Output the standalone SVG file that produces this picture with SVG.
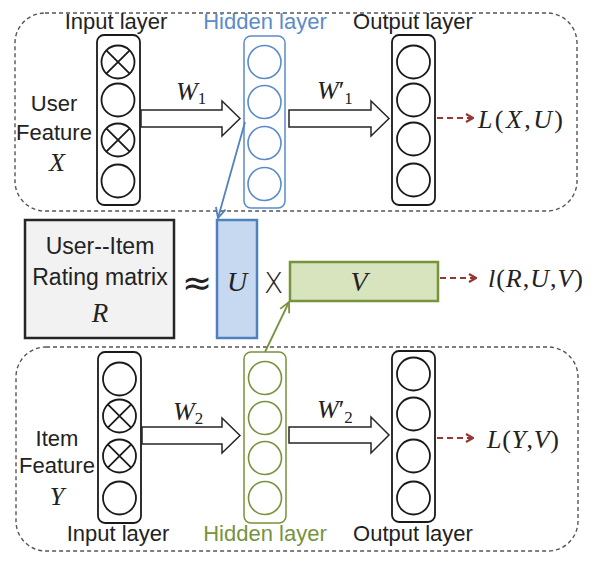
<svg xmlns="http://www.w3.org/2000/svg" width="591" height="566" viewBox="0 0 591 566">
<defs>
<style>
.frame{fill:none;stroke:#555;stroke-width:1.4;stroke-dasharray:4 3}
.col{fill:#fff;stroke:#1a1a1a;stroke-width:1.8}
.colb{fill:#fff;stroke:#5b8bc9;stroke-width:1.5}
.colg{fill:#fff;stroke:#77933c;stroke-width:1.5}
.n{fill:none;stroke:#1a1a1a;stroke-width:1.8}
.nb{fill:none;stroke:#5b8bc9;stroke-width:1.6}
.ng{fill:none;stroke:#77933c;stroke-width:1.6}
.blk{fill:#fff;stroke:#262626;stroke-width:1.5}
.lbl{font-family:"Liberation Sans",Arial,sans-serif;font-size:22px;fill:#222;text-anchor:middle}
.math{font-family:"Liberation Serif","Times New Roman",serif;font-style:italic;fill:#222}
.up{font-style:normal}
.loss{fill:none;stroke:#953735;stroke-width:2.2;stroke-dasharray:6 4}
</style>
<marker id="redhead" viewBox="0 0 10 10" refX="9" refY="5" markerWidth="10" markerHeight="10" markerUnits="userSpaceOnUse" orient="auto">
<path d="M2,1 L9,5 L2,9" fill="none" stroke="#953735" stroke-width="2.2"/>
</marker>
<marker id="bluehead" viewBox="0 0 12 12" refX="11" refY="6" markerWidth="12" markerHeight="12" markerUnits="userSpaceOnUse" orient="auto">
<path d="M1,1 L11,6 L1,11" fill="none" stroke="#4f81bd" stroke-width="1.8"/>
</marker>
<marker id="greenhead" viewBox="0 0 12 12" refX="11" refY="6" markerWidth="12" markerHeight="12" markerUnits="userSpaceOnUse" orient="auto">
<path d="M1,1 L11,6 L1,11" fill="none" stroke="#77933c" stroke-width="1.8"/>
</marker>
</defs>
<rect width="591" height="566" fill="#fff"/>

<g id="user-frame">
<rect class="frame" x="15" y="13" width="562" height="198" rx="30"/>
</g>
<g id="item-frame">
<rect class="frame" x="16" y="347" width="562" height="204" rx="30"/>
</g>

<g id="user-feature">
<text class="lbl" x="54" y="111">User</text>
<text class="lbl" x="54" y="140">Feature</text>
<text class="math" x="57" y="171" font-size="26" text-anchor="middle">X</text>
</g>

<g id="user-input-layer">
<text class="lbl" x="116" y="29">Input layer</text>
<rect class="col" x="97" y="35" width="43" height="170" rx="7"/>
<circle class="n" cx="118" cy="62" r="16.5"/>
<path class="n" d="M106.3,50.3 L129.7,73.7 M129.7,50.3 L106.3,73.7"/>
<circle class="n" cx="118" cy="100" r="16.5"/>
<circle class="n" cx="118" cy="140" r="16.5"/>
<path class="n" d="M106.3,128.3 L129.7,151.7 M129.7,128.3 L106.3,151.7"/>
<circle class="n" cx="118" cy="181" r="16.5"/>
</g>

<g id="user-hidden-layer">
<text class="lbl" x="265" y="29" style="fill:#5b8bc9">Hidden layer</text>
<rect class="colb" x="244" y="36" width="41" height="172" rx="7"/>
<circle class="nb" cx="264.5" cy="62" r="16.5"/>
<circle class="nb" cx="264.5" cy="102" r="16.5"/>
<circle class="nb" cx="264.5" cy="143" r="16.5"/>
<circle class="nb" cx="264.5" cy="184" r="16.5"/>
</g>

<g id="user-output-layer">
<text class="lbl" x="413" y="29">Output layer</text>
<rect class="col" x="392" y="35" width="43" height="170" rx="7"/>
<circle class="n" cx="413.5" cy="62" r="16.5"/>
<circle class="n" cx="413.5" cy="100" r="16.5"/>
<circle class="n" cx="413.5" cy="139" r="16.5"/>
<circle class="n" cx="413.5" cy="180" r="16.5"/>
</g>

<g id="user-loss">
<text class="math" x="478" y="128" font-size="26" textLength="85" lengthAdjust="spacing">L<tspan class="up">(</tspan>X<tspan class="up">,</tspan>U<tspan class="up">)</tspan></text>
</g>

<g id="rating-matrix">
<rect x="25" y="220" width="149" height="118" fill="#f2f2f2" stroke="#262626" stroke-width="2.5"/>
<text class="lbl" x="100" y="254" font-size="23" style="font-size:23px">User--Item</text>
<text class="lbl" x="100" y="285" style="font-size:23px">Rating matrix</text>
<text class="math" x="100" y="322" font-size="27" text-anchor="middle">R</text>
</g>

<g id="approx">
<text x="197" y="295" font-family="DejaVu Sans, sans-serif" font-size="36" fill="#222" text-anchor="middle">≈</text>
</g>

<g id="U-matrix">
<rect x="217" y="220" width="40" height="118" fill="#c6d9f1" stroke="#4f81bd" stroke-width="2.5"/>
<text class="math" x="237" y="291" font-size="28" text-anchor="middle">U</text>
</g>

<g id="times">
<text x="273.5" y="293" font-family="DejaVu Sans, sans-serif" font-weight="200" font-size="28" fill="#222" text-anchor="middle">X</text>
</g>

<g id="V-matrix">
<rect x="290" y="262" width="148" height="39" fill="#d7e4bd" stroke="#77933c" stroke-width="2.5"/>
<text class="math" x="359" y="291" font-size="28" text-anchor="middle">V</text>
</g>

<g id="rating-loss">
<text class="math" x="488" y="287" font-size="26" textLength="95" lengthAdjust="spacing">l<tspan class="up">(</tspan>R<tspan class="up">,</tspan>U<tspan class="up">,</tspan>V<tspan class="up">)</tspan></text>
</g>

<g id="item-feature">
<text class="lbl" x="57" y="446">Item</text>
<text class="lbl" x="57" y="473">Feature</text>
<text class="math" x="57" y="505" font-size="26" text-anchor="middle">Y</text>
</g>

<g id="item-input-layer">
<text class="lbl" x="118" y="541">Input layer</text>
<rect class="col" x="98" y="352" width="43" height="171" rx="7"/>
<circle class="n" cx="119.5" cy="379" r="16.5"/>
<circle class="n" cx="119.5" cy="416" r="16.5"/>
<path class="n" d="M107.8,404.3 L131.2,427.7 M131.2,404.3 L107.8,427.7"/>
<circle class="n" cx="119.5" cy="456" r="16.5"/>
<path class="n" d="M107.8,444.3 L131.2,467.7 M131.2,444.3 L107.8,467.7"/>
<circle class="n" cx="119.5" cy="498" r="16.5"/>
</g>

<g id="item-hidden-layer">
<text class="lbl" x="265" y="541" style="fill:#77933c">Hidden layer</text>
<rect class="colg" x="244" y="352" width="42" height="171" rx="7"/>
<circle class="ng" cx="265" cy="378" r="16.5"/>
<circle class="ng" cx="265" cy="418" r="16.5"/>
<circle class="ng" cx="265" cy="458" r="16.5"/>
<circle class="ng" cx="265" cy="498" r="16.5"/>
</g>

<g id="item-output-layer">
<text class="lbl" x="413" y="541">Output layer</text>
<rect class="col" x="392" y="351" width="43" height="171" rx="7"/>
<circle class="n" cx="413.5" cy="374" r="16.5"/>
<circle class="n" cx="413.5" cy="414" r="16.5"/>
<circle class="n" cx="413.5" cy="456" r="16.5"/>
<circle class="n" cx="413.5" cy="498" r="16.5"/>
</g>

<g id="item-loss">
<text class="math" x="487" y="448" font-size="26" textLength="72" lengthAdjust="spacing">L<tspan class="up">(</tspan>Y<tspan class="up">,</tspan>V<tspan class="up">)</tspan></text>
</g>

<g id="connectors">
<path class="blk" d="M141,110 H222 V101 L240,118.5 L222,136 V127 H141 Z"/>
<path class="blk" d="M289,110 H371 V101 L389,118.5 L371,136 V127 H289 Z"/>
<path class="blk" d="M142,427 H222 V418 L240,435.5 L222,453 V444 H142 Z"/>
<path class="blk" d="M289,427 H371 V417 L389,435 L371,453 V443 H289 Z"/>
<text class="math" x="176" y="100" font-size="26">W<tspan class="up" font-size="17" dy="4">1</tspan></text>
<text class="math" x="317" y="99" font-size="26">W<tspan class="up">′</tspan><tspan class="up" font-size="17" dy="5">1</tspan></text>
<text class="math" x="173" y="420" font-size="26">W<tspan class="up" font-size="17" dy="4">2</tspan></text>
<text class="math" x="317" y="418" font-size="26">W<tspan class="up">′</tspan><tspan class="up" font-size="17" dy="5">2</tspan></text>
<line class="loss" x1="437" y1="118" x2="473" y2="118" marker-end="url(#redhead)"/>
<line class="loss" x1="440" y1="278" x2="476" y2="278" marker-end="url(#redhead)"/>
<line class="loss" x1="437" y1="438" x2="473" y2="438" marker-end="url(#redhead)"/>
<line x1="245" y1="122" x2="218" y2="218" stroke="#4f81bd" stroke-width="1.8" marker-end="url(#bluehead)"/>
<line x1="265" y1="352" x2="289" y2="302" stroke="#77933c" stroke-width="1.8" marker-end="url(#greenhead)"/>
</g>
</svg>
